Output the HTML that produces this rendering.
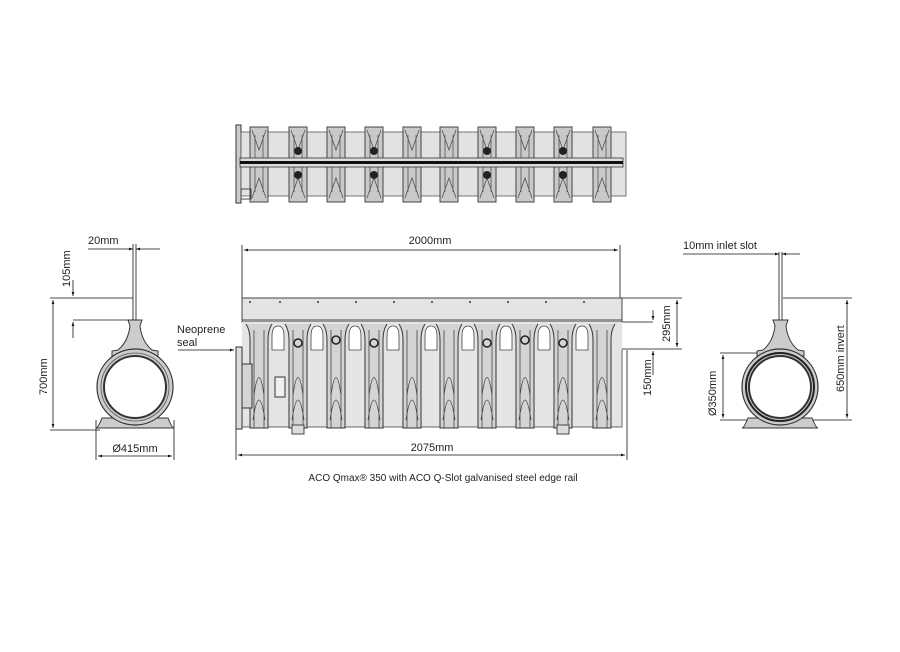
<!DOCTYPE html>
<html><head><style>
html,body{margin:0;padding:0;background:#fff}
svg{display:block}
text{font-family:"Liberation Sans",sans-serif;fill:#222}
</style></head><body>
<svg width="900" height="652" viewBox="0 0 900 652" xmlns="http://www.w3.org/2000/svg">
<defs>
<marker id="a" viewBox="0 0 10 10" refX="10" refY="5" markerWidth="7" markerHeight="5" orient="auto-start-reverse"><path d="M0,1.5 L10,5 L0,8.5z" fill="#111"/></marker>
<g id="tu">
 <rect x="-9" y="127" width="18" height="75" fill="#c9c9c9" stroke="#444" stroke-width="1"/>
 <path d="M-7,130 L0,150 L7,130 M-7,198 L0,178 L7,198 M-4,135 V192 M4,135 V192" fill="none" stroke="#555" stroke-width="0.8"/>
</g>
<g id="fu">
 <path d="M-13,324 Q-9,330 -9,340 V428 H9 V340 Q9,330 13,324" fill="#d4d4d4" stroke="#333" stroke-width="1"/>
 <path d="M-5,330 V428 M5,330 V428 M-5,395 Q0,360 5,395 M-6,420 Q0,380 6,420" fill="none" stroke="#444" stroke-width="0.8"/>
</g>
<g id="arch"><path d="M-6,350 V336 Q-6,326 0,326 Q6,326 6,336 V350z" fill="#fff" stroke="#444" stroke-width="0.8"/></g>
</defs>

<!-- TOP VIEW -->
<rect x="236" y="125" width="5" height="78" fill="#ccc" stroke="#333"/>
<rect x="241" y="132" width="385" height="64" fill="#e2e2e2" stroke="#555" stroke-width="0.8"/>
<g>
<use href="#tu" x="259"/><use href="#tu" x="298"/><use href="#tu" x="336"/><use href="#tu" x="374"/><use href="#tu" x="412"/><use href="#tu" x="449"/><use href="#tu" x="487"/><use href="#tu" x="525"/><use href="#tu" x="563"/><use href="#tu" x="602"/>
</g>
<rect x="240" y="158" width="383" height="9" fill="#ddd" stroke="#333" stroke-width="0.8"/>
<rect x="240" y="161" width="383" height="3" fill="#111"/>
<circle cx="298" cy="151" r="4" fill="#222"/><circle cx="298" cy="175" r="4" fill="#222"/>
<circle cx="374" cy="151" r="4" fill="#222"/><circle cx="374" cy="175" r="4" fill="#222"/>
<circle cx="487" cy="151" r="4" fill="#222"/><circle cx="487" cy="175" r="4" fill="#222"/>
<circle cx="563" cy="151" r="4" fill="#222"/><circle cx="563" cy="175" r="4" fill="#222"/>
<rect x="241" y="189" width="10" height="10" fill="none" stroke="#444"/>

<!-- FRONT VIEW -->
<g stroke="#111" stroke-width="0.8" fill="none">
<line x1="242" y1="245" x2="242" y2="298"/><line x1="620" y1="245" x2="620" y2="298"/>
<line x1="244" y1="250" x2="618" y2="250" marker-start="url(#a)" marker-end="url(#a)"/>
<line x1="236" y1="428" x2="236" y2="460"/><line x1="627" y1="350" x2="627" y2="460"/>
<line x1="238" y1="455" x2="625" y2="455" marker-start="url(#a)" marker-end="url(#a)"/>
<line x1="622" y1="298" x2="682" y2="298"/><line x1="622" y1="349" x2="682" y2="349"/>
<line x1="677" y1="300" x2="677" y2="347" marker-start="url(#a)" marker-end="url(#a)"/>
<line x1="600" y1="322" x2="653" y2="322"/>
<line x1="653" y1="310" x2="653" y2="320" marker-end="url(#a)"/>
<line x1="653" y1="375" x2="653" y2="351" marker-end="url(#a)"/>
<line x1="178" y1="350" x2="234" y2="350" marker-end="url(#a)"/>
</g>
<text x="430" y="244" font-size="11" text-anchor="middle">2000mm</text>
<text x="432" y="451" font-size="11" text-anchor="middle">2075mm</text>
<text font-size="11" transform="translate(670,342) rotate(-90)">295mm</text>
<text font-size="11" transform="translate(651,396) rotate(-90)">150mm</text>
<text x="177" y="333" font-size="11">Neoprene</text>
<text x="177" y="346" font-size="11">seal</text>

<rect x="242" y="349" width="380" height="78" fill="#e4e4e4" stroke="#444" stroke-width="0.8"/>
<rect x="242" y="298" width="380" height="24" fill="#e4e4e4" stroke="#444" stroke-width="1"/>
<line x1="242" y1="320" x2="622" y2="320" stroke="#444"/>
<g fill="#333"><circle cx="250" cy="302" r="1"/><circle cx="280" cy="302" r="1"/><circle cx="318" cy="302" r="1"/><circle cx="356" cy="302" r="1"/><circle cx="394" cy="302" r="1"/><circle cx="432" cy="302" r="1"/><circle cx="470" cy="302" r="1"/><circle cx="508" cy="302" r="1"/><circle cx="546" cy="302" r="1"/><circle cx="584" cy="302" r="1"/></g>
<rect x="242" y="322" width="380" height="28" fill="#e4e4e4"/>
<use href="#arch" x="278"/><use href="#arch" x="317"/><use href="#arch" x="355"/><use href="#arch" x="393"/><use href="#arch" x="431"/><use href="#arch" x="468"/><use href="#arch" x="506"/><use href="#arch" x="544"/><use href="#arch" x="582"/>
<use href="#fu" x="259"/><use href="#fu" x="298"/><use href="#fu" x="336"/><use href="#fu" x="374"/><use href="#fu" x="412"/><use href="#fu" x="449"/><use href="#fu" x="487"/><use href="#fu" x="525"/><use href="#fu" x="563"/><use href="#fu" x="602"/>
<rect x="292" y="425" width="12" height="9" fill="#ddd" stroke="#444"/>
<rect x="557" y="425" width="12" height="9" fill="#ddd" stroke="#444"/>
<circle cx="298" cy="343" r="4" fill="none" stroke="#222" stroke-width="1.5"/>
<circle cx="336" cy="340" r="4" fill="none" stroke="#222" stroke-width="1.5"/>
<circle cx="374" cy="343" r="4" fill="none" stroke="#222" stroke-width="1.5"/>
<circle cx="487" cy="343" r="4" fill="none" stroke="#222" stroke-width="1.5"/>
<circle cx="525" cy="340" r="4" fill="none" stroke="#222" stroke-width="1.5"/>
<circle cx="563" cy="343" r="4" fill="none" stroke="#222" stroke-width="1.5"/>
<rect x="236" y="347" width="6" height="82" fill="#ddd" stroke="#333"/>
<rect x="242" y="364" width="10" height="44" fill="#d4d4d4" stroke="#333"/>
<rect x="275" y="377" width="10" height="20" fill="#eee" stroke="#333"/>

<!-- LEFT END VIEW -->
<g stroke="#111" stroke-width="0.8" fill="none">
<line x1="133" y1="244" x2="133" y2="320"/><line x1="136" y1="244" x2="136" y2="320"/>
<line x1="88" y1="249" x2="133" y2="249" marker-end="url(#a)"/>
<line x1="160" y1="249" x2="136" y2="249" marker-end="url(#a)"/>
<line x1="50" y1="298" x2="133" y2="298"/>
<line x1="73" y1="280" x2="73" y2="296" marker-end="url(#a)"/>
<line x1="73" y1="338" x2="73" y2="322" marker-end="url(#a)"/>
<line x1="73" y1="320" x2="130" y2="320"/>
<line x1="53" y1="300" x2="53" y2="428" marker-start="url(#a)" marker-end="url(#a)"/>
<line x1="50" y1="430" x2="100" y2="430"/>
<line x1="96" y1="420" x2="96" y2="460"/><line x1="174" y1="420" x2="174" y2="460"/>
<line x1="98" y1="456" x2="172" y2="456" marker-start="url(#a)" marker-end="url(#a)"/>
</g>
<text x="88" y="244" font-size="11">20mm</text>
<text font-size="11" transform="translate(70,287) rotate(-90)">105mm</text>
<text font-size="11" transform="translate(47,395) rotate(-90)">700mm</text>
<text x="135" y="452" font-size="11" text-anchor="middle">Ø415mm</text>
<path d="M128,320 H142 L140,326 Q142,342 152,350 L158,351 V356 L112,356 V351 L118,350 Q128,342 130,326z" fill="#ccc" stroke="#333"/>
<path d="M102,418 Q98,428 96,428 H174 Q172,428 168,418z" fill="#ccc" stroke="#333"/>
<circle cx="135" cy="387" r="38" fill="#ccc" stroke="#333" stroke-width="1.2"/>
<circle cx="135" cy="387" r="31" fill="#fff" stroke="#333" stroke-width="2"/>
<circle cx="135" cy="387" r="34" fill="none" stroke="#555" stroke-width="0.8"/>

<!-- RIGHT END VIEW -->
<g stroke="#111" stroke-width="0.8" fill="none">
<line x1="779" y1="252" x2="779" y2="320"/><line x1="782" y1="252" x2="782" y2="320"/>
<line x1="683" y1="254" x2="779" y2="254" marker-end="url(#a)"/>
<line x1="800" y1="254" x2="782" y2="254" marker-end="url(#a)"/>
<line x1="783" y1="298" x2="852" y2="298"/>
<line x1="847" y1="300" x2="847" y2="418" marker-start="url(#a)" marker-end="url(#a)"/>
<line x1="720" y1="353" x2="770" y2="353"/><line x1="720" y1="420" x2="852" y2="420"/>
<line x1="723" y1="355" x2="723" y2="418" marker-start="url(#a)" marker-end="url(#a)"/>
</g>
<text x="683" y="249" font-size="11">10mm inlet slot</text>
<text font-size="11" transform="translate(716,416) rotate(-90)">Ø350mm</text>
<text font-size="11" transform="translate(844,392) rotate(-90)">650mm invert</text>
<path d="M773,320 H788 L786,326 Q788,342 798,350 L804,351 V356 L757,356 V351 L763,350 Q773,342 775,326z" fill="#ccc" stroke="#333"/>
<path d="M748,418 Q744,428 742,428 H818 Q816,428 812,418z" fill="#ccc" stroke="#333"/>
<circle cx="780" cy="387" r="38" fill="#ccc" stroke="#333" stroke-width="1.2"/>
<circle cx="780" cy="387" r="31" fill="#fff" stroke="#333" stroke-width="2"/>
<circle cx="780" cy="387" r="34" fill="none" stroke="#222" stroke-width="2"/>

<text x="443" y="481" font-size="10" text-anchor="middle">ACO Qmax® 350 with ACO Q-Slot galvanised steel edge rail</text>
</svg>
</body></html>
